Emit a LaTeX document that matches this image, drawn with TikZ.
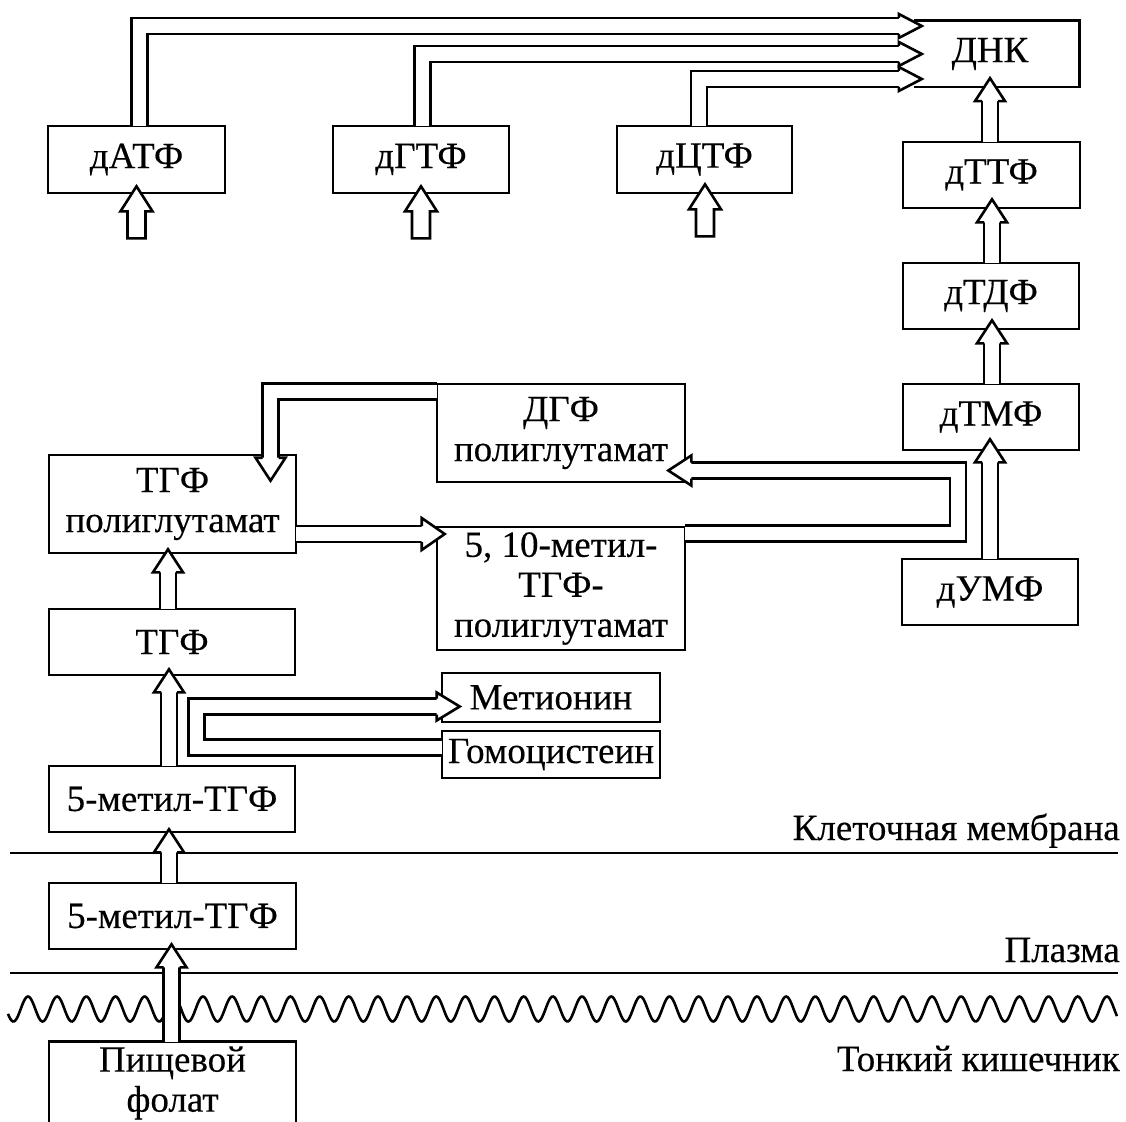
\documentclass[tikz,border=0pt]{standalone}
\usepackage{fontspec}
\setmainfont[FakeBold=0.3]{Liberation Serif}
\usetikzlibrary{calc}
\tikzset{
  box/.style={draw, line width=2.6pt, inner sep=0pt, font=\fontsize{37}{40}\selectfont, align=center},
  shaft/.style={draw=black, double=white, line width=2.6pt, double distance=13.4pt, line join=miter},
  hd/.style={draw=black, fill=white, line width=2.6pt, line join=miter},
  lbl/.style={font=\fontsize{37}{40}\selectfont, inner sep=0pt, anchor=base east},
  hline/.style={line width=2.6pt},
}
\newcommand\arrU[2][15]{\filldraw[hd] ($(#2)+(-8,23)$) -- ($(#2)+(-#1,23)$) -- (#2) -- ($(#2)+(#1,23)$) -- ($(#2)+(8,23)$);}
\newcommand\arrD[2][15]{\filldraw[hd] ($(#2)+(-8,-23)$) -- ($(#2)+(-#1,-23)$) -- (#2) -- ($(#2)+(#1,-23)$) -- ($(#2)+(8,-23)$);}
\newcommand\arrR[2][15]{\filldraw[hd] ($(#2)+(-23,-8)$) -- ($(#2)+(-23,-#1)$) -- (#2) -- ($(#2)+(-23,#1)$) -- ($(#2)+(-23,8)$);}
\newcommand\arrL[2][15]{\filldraw[hd] ($(#2)+(23,-8)$) -- ($(#2)+(23,-#1)$) -- (#2) -- ($(#2)+(23,#1)$) -- ($(#2)+(23,8)$);}
\newcommand\smallUp[1]{\filldraw[hd] ($(#1)+(-9,52)$) -- ($(#1)+(-9,25)$) -- ($(#1)+(-16,25)$) -- (#1) -- ($(#1)+(16,25)$) -- ($(#1)+(9,25)$) -- ($(#1)+(9,52)$) -- cycle;}
\begin{document}
\begin{tikzpicture}[x=1pt,y=-1pt]
\useasboundingbox (0,0) rectangle (1126,1121);
\clip (0,0) rectangle (1126,1121);
% boxes
\node[box, minimum width=177pt, minimum height=67pt] (datf) at (136.5,159.5) {дАТФ};
\node[box, minimum width=176pt, minimum height=67pt] (dgtf) at (421,159.5) {дГТФ};
\node[box, minimum width=175pt, minimum height=67pt] (dctf) at (704.5,159.5) {дЦТФ};
\node[inner sep=0pt, minimum width=160pt, minimum height=66pt, font=\fontsize{37}{40}\selectfont] (dnk) at (990,54) {ДНК};
\draw[line width=2.6pt] ($(dnk.north west)+(4,0)$) -- ($(dnk.north east)+(9,0)$) -- ($(dnk.south east)+(9,0)$) -- ($(dnk.south west)+(4,0)$);
\node[box, minimum width=177pt, minimum height=66pt] (dttf) at (991.5,175) {дТТФ};
\node[box, minimum width=176pt, minimum height=66pt] (dtdf) at (991,296) {дТДФ};
\node[box, minimum width=176pt, minimum height=66pt] (dtmf) at (991,417) {дТМФ};
\node[box, minimum width=176pt, minimum height=66pt] (dumf) at (990,592) {дУМФ};
\node[box, minimum width=247pt, minimum height=98pt] (tgfp) at (172.5,504) {ТГФ\\полиглутамат};
\node[box, minimum width=248pt, minimum height=98pt] (dgf) at (561,433) {ДГФ\\полиглутамат};
\node[box, minimum width=248pt, minimum height=123pt] (m510) at (561,588.5) {5, 10-метил-\\ТГФ-\\полиглутамат};
\node[box, minimum width=246pt, minimum height=66pt] (tgf) at (172,642) {ТГФ};
\node[box, minimum width=218pt, minimum height=49pt] (met) at (551,697.5) {Метионин};
\node[box, minimum width=218pt, minimum height=47pt] (hcy) at (551,754.5) {Гомоцистеин};
\node[box, minimum width=246pt, minimum height=66pt] (m5a) at (172,799) {5-метил-ТГФ};
\node[box, minimum width=247pt, minimum height=66pt] (m5b) at (172.5,916) {5-метил-ТГФ};
\node[box, minimum width=247pt, inner ysep=5pt, anchor=north] (food) at (172.5,1040) {Пищевой\\фолат};
% labels and layers
\node[lbl] (lmem) at (1120,840) {Клеточная мембрана};
\node[lbl] (lpl) at (1120,962) {Плазма};
\node[lbl] (lint) at (1120,1071) {Тонкий кишечник};
\draw[hline] (10,853) -- (1118,853);
\draw[hline] (10,973) -- (1118,973);
\draw[line width=2.6pt] plot[domain=8:1117, samples=900, smooth] (\x, {1009 - 12.5*cos(12.346*(\x-28))});
% shafts
\draw[shaft] ($(food.north)+(-1,1.5)$) -- ($(m5b.south)+(-1,17)$);
\draw[shaft] ($(m5b.north)+(-3.5,1.5)$) -- ($(m5a.south)+(-3,19)$);
\draw[shaft] ($(m5a.north)+(-3,1.5)$) -- ($(tgf.south)+(-3,16)$);
\draw[shaft] ($(tgf.north)+(-4,1.5)$) -- ($(tgfp.south)+(-4.5,18)$);
\draw[shaft] ($(tgfp.east)+(-1.5,30)$) -- ($(m510.west |- tgfp.east)+(-14,30)$);
\coordinate (fR) at ($(m510.north east)+(271.5,8)$);
\draw[shaft] ($(m510.north east)+(-1.5,8)$) -- (fR) |- ($(dgf.east)+(5,37.5)$);
\draw[shaft] ($(dgf.north west)+(1.5,8.5)$) -| ($(tgfp.north)+(98,4)$);
\coordinate (hL) at ($(met.west)+(-244,9)$);
\draw[shaft] ($(hcy.west)+(1.5,-7)$) -| (hL) -- ($(met.west)+(-4,9)$);
\draw[shaft] ($(datf.north)+(3,1.5)$) |- ($(dnk.west)+(-11,-28)$);
\draw[shaft] ($(dgtf.north)+(1.5,1.5)$) |- ($(dnk.west)+(-11,0)$);
\draw[shaft] ($(dctf.north)+(-5.5,1.5)$) |- ($(dnk.west)+(-11,25)$);
\draw[shaft] ($(dttf.north)+(-1.5,1.5)$) -- ($(dnk.south)+(0,14)$);
\draw[shaft] ($(dtdf.north)+(1,1.5)$) -- ($(dttf.south)+(0.5,13)$);
\draw[shaft] ($(dtmf.north)+(1,1.5)$) -- ($(dtdf.south)+(1,13)$);
\draw[shaft] ($(dumf.north)+(0,1.5)$) -- ($(dtmf.south)+(-1,11)$);
% heads
\coordinate (tA) at ($(m5b.south)+(-1,-6)$); \arrU{tA}
\coordinate (tB) at ($(m5a.south)+(-3,-4)$); \arrU{tB}
\coordinate (tC) at ($(tgf.south)+(-3,-7)$); \arrU{tC}
\coordinate (tD) at ($(tgfp.south)+(-4.5,-5)$); \arrU{tD}
\coordinate (tE) at ($(m510.west |- tgfp.east)+(9,30)$); \arrR[16]{tE}
\coordinate (tF) at ($(dgf.east)+(-18,37.5)$); \arrL{tF}
\coordinate (tG) at ($(tgfp.north)+(98,27)$); \arrD{tG}
\coordinate (tH) at ($(met.west)+(19,9)$); \arrR[14]{tH}
\coordinate (t1) at ($(dnk.west)+(12,-28)$); \arrR[12]{t1}
\coordinate (t2) at ($(dnk.west)+(12,0)$); \arrR[12]{t2}
\coordinate (t3) at ($(dnk.west)+(12,25)$); \arrR[12]{t3}
\coordinate (tJ) at ($(dnk.south)+(0,-9)$); \arrU{tJ}
\coordinate (tK) at ($(dttf.south)+(0.5,-10)$); \arrU{tK}
\coordinate (tL) at ($(dtdf.south)+(1,-10)$); \arrU{tL}
\coordinate (tM) at ($(dtmf.south)+(-1,-12)$); \arrU{tM}
% free arrows below the triphosphates
\coordinate (sa) at ($(datf.south)+(0,-8)$); \smallUp{sa}
\coordinate (sg) at ($(dgtf.south)+(0,-8)$); \smallUp{sg}
\coordinate (sc) at ($(dctf.south)+(0.5,-10)$); \smallUp{sc}
\end{tikzpicture}
\end{document}
